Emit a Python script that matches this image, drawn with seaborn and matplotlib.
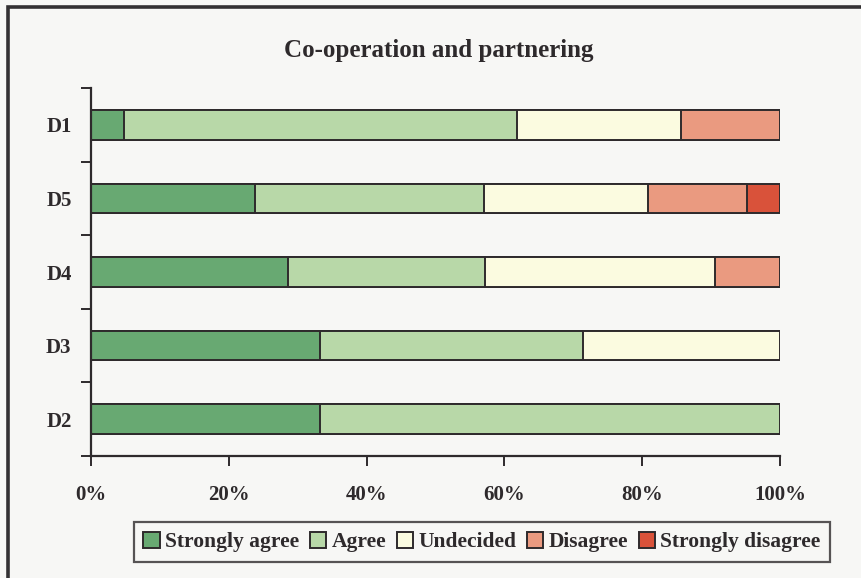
import numpy as np
import pandas as pd
import matplotlib
matplotlib.use("Agg")
import matplotlib.pyplot as plt
from matplotlib.patches import Rectangle
import seaborn as sns

# Survey responses per statement (percent of respondents, n = 21)
statements = ["D1", "D5", "D4", "D3", "D2"]
strongly_agree = [4.8, 23.8, 28.6, 33.3, 33.3]
agree = [57.1, 33.3, 28.6, 38.1, 66.7]
undecided = [23.8, 23.8, 33.3, 28.6, 0.0]
disagree = [14.3, 14.3, 9.5, 0.0, 0.0]
strongly_disagree = [0.0, 4.8, 0.0, 0.0, 0.0]

responses = ["Strongly agree", "Agree", "Undecided", "Disagree", "Strongly disagree"]
colors = ["#68a972", "#b8d8a8", "#fbfbe0", "#ea9a80", "#d9523a"]
xticks = [0, 20, 40, 60, 80, 100]
xtick_labels = ["0%", "20%", "40%", "60%", "80%", "100%"]
title = "Co-operation and partnering"

bg = "#f7f7f5"
ink = "#2e2a2c"

sns.set_theme(style="white")
plt.rcParams["font.family"] = ["Liberation Serif", "DejaVu Serif"]
plt.rcParams["font.weight"] = "bold"

df = pd.DataFrame({
    "statement": statements,
    "Strongly agree": strongly_agree,
    "Agree": agree,
    "Undecided": undecided,
    "Disagree": disagree,
    "Strongly disagree": strongly_disagree,
})
cum = df[responses].cumsum(axis=1)
cum["statement"] = df["statement"]

W, H = 862, 578
fig = plt.figure(figsize=(W / 100, H / 100), dpi=100, facecolor=bg)
ax = fig.add_axes([91 / W, 1 - 456 / H, (780 - 91) / W, (456 - 88) / H])
ax.set_facecolor(bg)

# Stacked bars: draw cumulative totals from the outermost segment inwards
for name, col in reversed(list(zip(responses, colors))):
    sns.barplot(data=cum, y="statement", x=name, order=statements, orient="h",
                color=col, width=0.4, edgecolor=ink, linewidth=1.4,
                saturation=1, ax=ax, label=name)
handles_list, labels_list = ax.get_legend_handles_labels()
lookup = dict(zip(labels_list, handles_list))
if ax.get_legend() is not None:
    ax.get_legend().remove()

ax.set_xlim(0, 100)
ax.set_ylim(4.5, -0.5)
ax.set_xlabel("")
ax.set_ylabel("")

ax.set_xticks(xticks)
ax.set_xticklabels(xtick_labels, fontsize=15, fontweight="bold", color=ink)
ax.tick_params(axis="x", direction="out", length=7, width=1.4, color=ink, pad=14,
               bottom=True)

# Category ticks sit between the bars; labels sit at bar centres
ax.set_yticks(np.arange(-0.5, len(statements)), minor=False)
ax.set_yticklabels([])
ax.set_yticks(np.arange(len(statements)), minor=True)
ax.set_yticklabels(statements, minor=True, fontsize=15, fontweight="bold", color=ink)
ax.tick_params(axis="y", which="major", direction="out", length=7, width=1.4,
               color=ink, left=True)
ax.tick_params(axis="y", which="minor", length=0, pad=14, left=True)

for side in ["top", "right"]:
    ax.spines[side].set_visible(False)
for side in ["left", "bottom"]:
    ax.spines[side].set_color(ink)
    ax.spines[side].set_linewidth(1.6)

fig.text(439 / W, 1 - 51 / H, title, ha="center", va="center",
         fontsize=18, fontweight="bold", color=ink)

leg = fig.legend([lookup[r] for r in responses], responses,
                 loc="center", bbox_to_anchor=(482 / W, 1 - 542 / H),
                 ncol=5, frameon=True, fancybox=False, shadow=False,
                 prop={"family": "Liberation Serif", "weight": "bold", "size": 15.5},
                 handlelength=0.75, handleheight=0.75, handletextpad=0.25,
                 columnspacing=0.5, borderpad=0.45, borderaxespad=0.0,
                 labelcolor=ink)
leg.get_frame().set_edgecolor(ink)
leg.get_frame().set_linewidth(1.6)
leg.get_frame().set_facecolor(bg)

# Page frame around the chart
fig.add_artist(Rectangle((8 / W, -0.1), 1.2, 1.1 - 7 / H, transform=fig.transFigure,
                         fill=False, edgecolor="#333133", linewidth=2.6))

fig.savefig("out.png", dpi=100, facecolor=bg)
